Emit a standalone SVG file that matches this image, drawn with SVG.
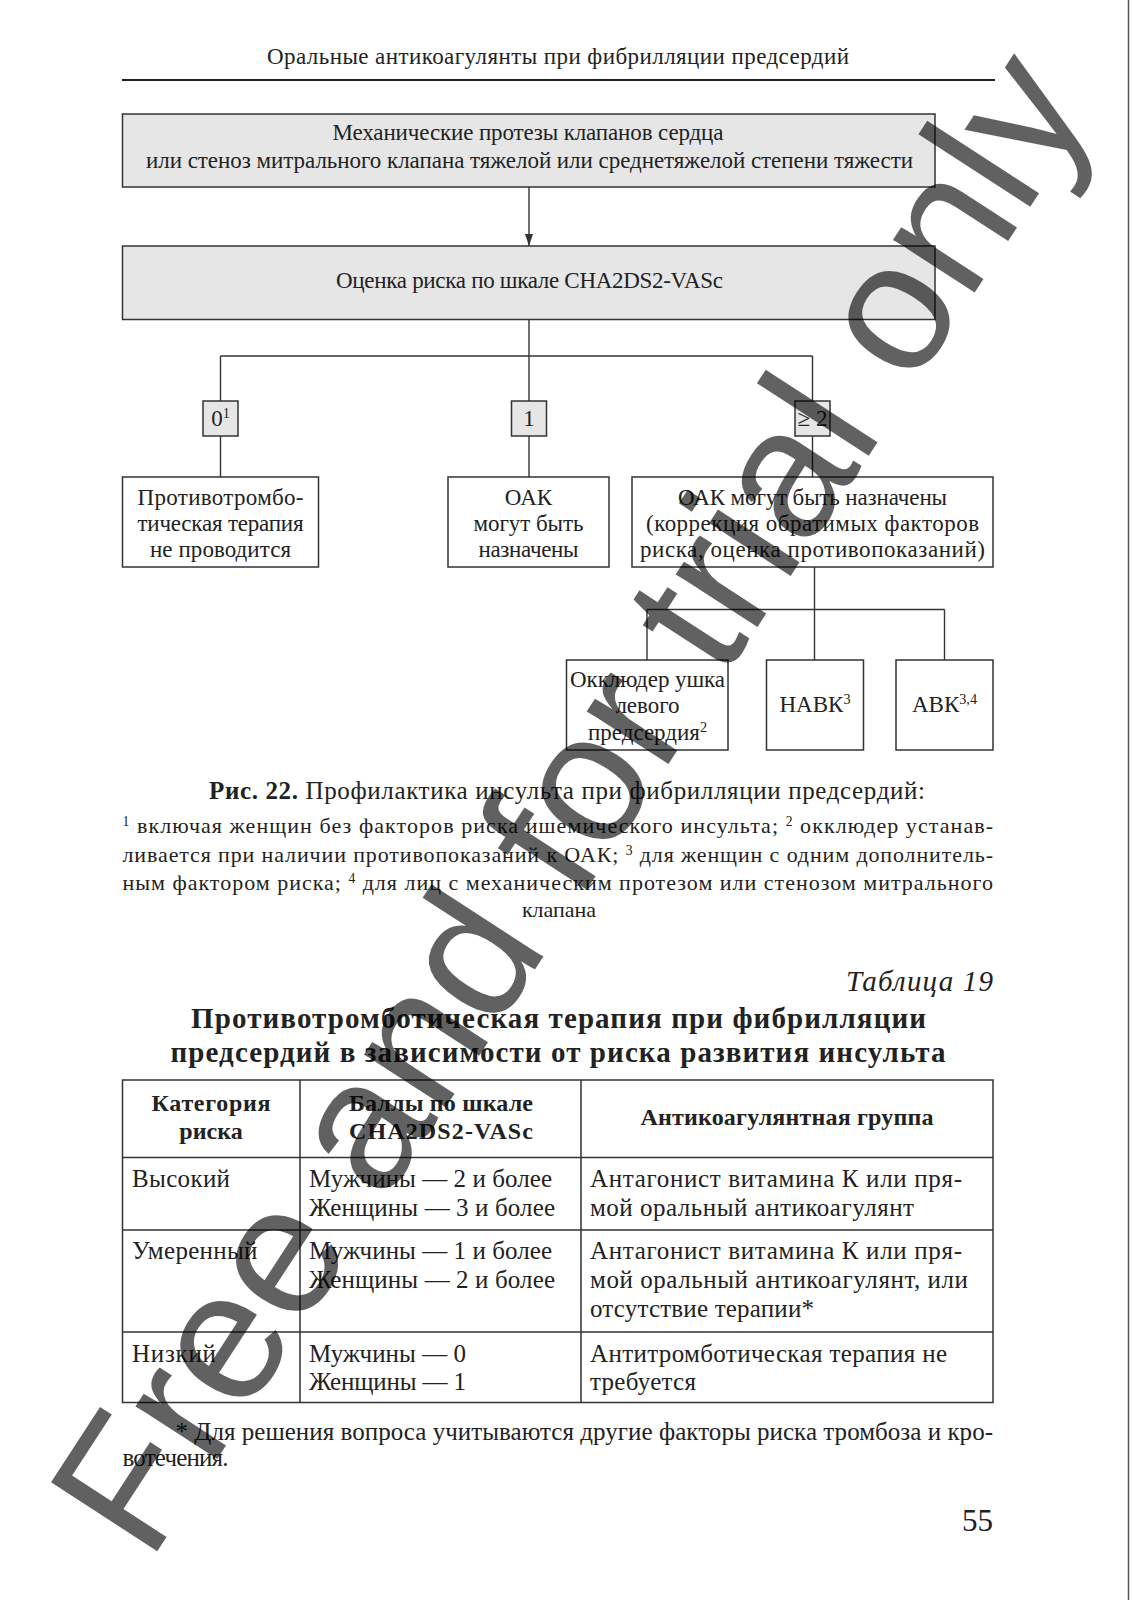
<svg xmlns="http://www.w3.org/2000/svg" width="1132" height="1600" viewBox="0 0 1132 1600">
<style>
.t{font-family:"Liberation Serif","Times New Roman",serif;fill:#222}
.c{text-anchor:middle}
.b{font-weight:bold}
.box{fill:#fff;stroke:#333;stroke-width:1.5}
.gbox{fill:#e6e6e6;stroke:#333;stroke-width:1.5}
.conn{fill:none;stroke:#333;stroke-width:1.4}
.grid{fill:none;stroke:#333;stroke-width:1.5}
.sup{font-size:62%;baseline-shift:super}
.dt{font-size:23px}
.tb{font-size:25px}
.fn{font-size:22px}
</style>
<defs>
<marker id="arr" markerWidth="12" markerHeight="10" refX="12" refY="5" orient="auto" markerUnits="userSpaceOnUse" viewBox="0 0 12 10">
<path d="M0,1 L12,5 L0,9 Z" fill="#333"/>
</marker>
</defs>
<rect width="1132" height="1600" fill="#fff"/>
<line x1="1128.5" y1="0" x2="1128.5" y2="1600" stroke="#555" stroke-width="1.5"/>

<g id="page-header">
<text class="t c" x="558" y="64" font-size="23" textLength="582" lengthAdjust="spacing">Оральные антикоагулянты при фибрилляции предсердий</text>
<line x1="122" y1="80" x2="995" y2="80" stroke="#222" stroke-width="2"/>
</g>

<g id="connectors">
<path class="conn" d="M529,187 V246" marker-end="url(#arr)"/>
<path class="conn" d="M529,319.5 V401"/>
<path class="conn" d="M220.5,356 H812.5"/>
<path class="conn" d="M220.5,356 V401"/>
<path class="conn" d="M812.5,356 V401"/>
<path class="conn" d="M220.5,436 V477"/>
<path class="conn" d="M529,436 V477"/>
<path class="conn" d="M812.5,436 V477"/>
<path class="conn" d="M814.5,567 V660"/>
<path class="conn" d="M647,609.5 H944.5"/>
<path class="conn" d="M647,609.5 V660"/>
<path class="conn" d="M944.5,609.5 V660"/>
</g>

<g id="n-mech">
<rect class="gbox" x="122.5" y="114" width="812.5" height="73"/>
<text class="t c dt" x="528" y="140" textLength="391" lengthAdjust="spacing">Механические протезы клапанов сердца</text>
<text class="t c dt" x="529.5" y="168" textLength="767" lengthAdjust="spacing">или стеноз митрального клапана тяжелой или среднетяжелой степени тяжести</text>
</g>

<g id="n-score">
<rect class="gbox" x="122.5" y="246" width="812.5" height="73.5"/>
<text class="t c dt" x="529.5" y="288" textLength="387" lengthAdjust="spacing">Оценка риска по шкале CHA2DS2-VASc</text>
</g>

<g id="n-s0">
<rect class="gbox" x="203" y="401" width="35" height="35"/>
<text class="t c dt" x="220.5" y="426">0<tspan class="sup">1</tspan></text>
</g>
<g id="n-s1">
<rect class="gbox" x="511.5" y="401" width="35" height="35"/>
<text class="t c dt" x="529" y="426">1</text>
</g>
<g id="n-s2">
<rect class="gbox" x="795" y="401" width="35" height="35"/>
<text class="t c dt" x="812.5" y="426">≥ 2</text>
</g>

<g id="n-none">
<rect class="box" x="122.5" y="477" width="196" height="90"/>
<text class="t c dt" x="220.5" y="505" textLength="166" lengthAdjust="spacing">Противотромбо-</text>
<text class="t c dt" x="220.5" y="531" textLength="166" lengthAdjust="spacing">тическая терапия</text>
<text class="t c dt" x="220.5" y="557" textLength="141" lengthAdjust="spacing">не проводится</text>
</g>

<g id="n-oak1">
<rect class="box" x="448" y="477" width="161" height="90"/>
<text class="t c dt" x="528.5" y="505">ОАК</text>
<text class="t c dt" x="528.5" y="531" textLength="110" lengthAdjust="spacing">могут быть</text>
<text class="t c dt" x="528.5" y="557" textLength="100" lengthAdjust="spacing">назначены</text>
</g>

<g id="n-oak2">
<rect class="box" x="632" y="477" width="361" height="90"/>
<text class="t c dt" x="812.5" y="505" textLength="269" lengthAdjust="spacing">ОАК могут быть назначены</text>
<text class="t c dt" x="812.5" y="531" textLength="333" lengthAdjust="spacing">(коррекция обратимых факторов</text>
<text class="t c dt" x="812.5" y="557" textLength="345" lengthAdjust="spacing">риска, оценка противопоказаний)</text>
</g>

<g id="n-occl">
<rect class="box" x="566.5" y="660" width="161.5" height="90"/>
<text class="t c dt" x="647.5" y="687" textLength="155" lengthAdjust="spacing">Окклюдер ушка</text>
<text class="t c dt" x="647.5" y="713">левого</text>
<text class="t c dt" x="647.5" y="740">предсердия<tspan class="sup">2</tspan></text>
</g>

<g id="n-navk">
<rect class="box" x="766.5" y="660" width="97" height="90"/>
<text class="t c dt" x="815" y="712">НАВК<tspan class="sup">3</tspan></text>
</g>

<g id="n-avk">
<rect class="box" x="896" y="660" width="97" height="90"/>
<text class="t c dt" x="944.5" y="712">АВК<tspan class="sup">3,4</tspan></text>
</g>

<g id="caption">
<text class="t" x="209" y="799" font-size="25" textLength="716" lengthAdjust="spacing"><tspan class="b">Рис. 22.</tspan> Профилактика инсульта при фибрилляции предсердий:</text>
<text class="t fn" x="122.5" y="833" textLength="870.5" lengthAdjust="spacing"><tspan class="sup">1</tspan> включая женщин без факторов риска ишемического инсульта; <tspan class="sup">2</tspan> окклюдер устанав-</text>
<text class="t fn" x="122.5" y="862" textLength="870.5" lengthAdjust="spacing">ливается при наличии противопоказаний к ОАК; <tspan class="sup">3</tspan> для женщин с одним дополнитель-</text>
<text class="t fn" x="122.5" y="890" textLength="870.5" lengthAdjust="spacing">ным фактором риска; <tspan class="sup">4</tspan> для лиц с механическим протезом или стенозом митрального</text>
<text class="t c fn" x="559" y="917">клапана</text>
</g>

<g id="table-title">
<text class="t" x="993" y="991" font-size="29" font-style="italic" text-anchor="end" textLength="147" lengthAdjust="spacing">Таблица 19</text>
<text class="t c b" x="558.5" y="1028" font-size="29" textLength="735" lengthAdjust="spacing">Противотромботическая терапия при фибрилляции</text>
<text class="t c b" x="558" y="1062" font-size="29" textLength="775" lengthAdjust="spacing">предсердий в зависимости от риска развития инсульта</text>
</g>

<g id="table">
<rect class="grid" x="122.5" y="1080" width="870.5" height="322.5"/>
<path class="grid" d="M300,1080 V1402.5 M581,1080 V1402.5 M122.5,1157.5 H993 M122.5,1230 H993 M122.5,1332 H993"/>
<text class="t c b" font-size="24" x="211" y="1111" textLength="119" lengthAdjust="spacing">Категория</text>
<text class="t c b" font-size="24" x="211" y="1139">риска</text>
<text class="t c b" font-size="24" x="441" y="1111" textLength="184" lengthAdjust="spacing">Баллы по шкале</text>
<text class="t c b" font-size="24" x="441" y="1139" textLength="184" lengthAdjust="spacing">CHA2DS2-VASc</text>
<text class="t c b" font-size="24" x="787" y="1125" textLength="293" lengthAdjust="spacing">Антикоагулянтная группа</text>

<text class="t tb" x="132" y="1187" textLength="98" lengthAdjust="spacing">Высокий</text>
<text class="t tb" x="309" y="1187" textLength="243" lengthAdjust="spacing">Мужчины — 2 и более</text>
<text class="t tb" x="309" y="1216" textLength="246" lengthAdjust="spacing">Женщины — 3 и более</text>
<text class="t tb" x="590" y="1187" textLength="372" lengthAdjust="spacing">Антагонист витамина К или пря-</text>
<text class="t tb" x="590" y="1216" textLength="324" lengthAdjust="spacing">мой оральный антикоагулянт</text>

<text class="t tb" x="132" y="1259" textLength="125.5" lengthAdjust="spacing">Умеренный</text>
<text class="t tb" x="309" y="1259" textLength="243" lengthAdjust="spacing">Мужчины — 1 и более</text>
<text class="t tb" x="309" y="1288" textLength="246" lengthAdjust="spacing">Женщины — 2 и более</text>
<text class="t tb" x="590" y="1259" textLength="372" lengthAdjust="spacing">Антагонист витамина К или пря-</text>
<text class="t tb" x="590" y="1288" textLength="378" lengthAdjust="spacing">мой оральный антикоагулянт, или</text>
<text class="t tb" x="590" y="1317" textLength="224" lengthAdjust="spacing">отсутствие терапии*</text>

<text class="t tb" x="132" y="1362" textLength="84" lengthAdjust="spacing">Низкий</text>
<text class="t tb" x="309" y="1362" textLength="157" lengthAdjust="spacing">Мужчины — 0</text>
<text class="t tb" x="309" y="1390" textLength="157" lengthAdjust="spacing">Женщины — 1</text>
<text class="t tb" x="590" y="1362" textLength="357" lengthAdjust="spacing">Антитромботическая терапия не</text>
<text class="t tb" x="590" y="1390" textLength="106" lengthAdjust="spacing">требуется</text>
</g>

<g id="table-note">
<text class="t tb" x="175.5" y="1440" textLength="817.5" lengthAdjust="spacing">* Для решения вопроса учитываются другие факторы риска тромбоза и кро-</text>
<text class="t tb" x="122.5" y="1466" textLength="106" lengthAdjust="spacing">вотечения.</text>
<text class="t" x="993" y="1531" font-size="31" text-anchor="end">55</text>
</g>

<g id="watermark">
<text transform="translate(149,1564) rotate(-57)" x="0" y="0" font-family="Liberation Sans, Arial, sans-serif" font-size="184" fill="#000" fill-opacity="0.62">Free and for trial only</text>
</g>
</svg>
